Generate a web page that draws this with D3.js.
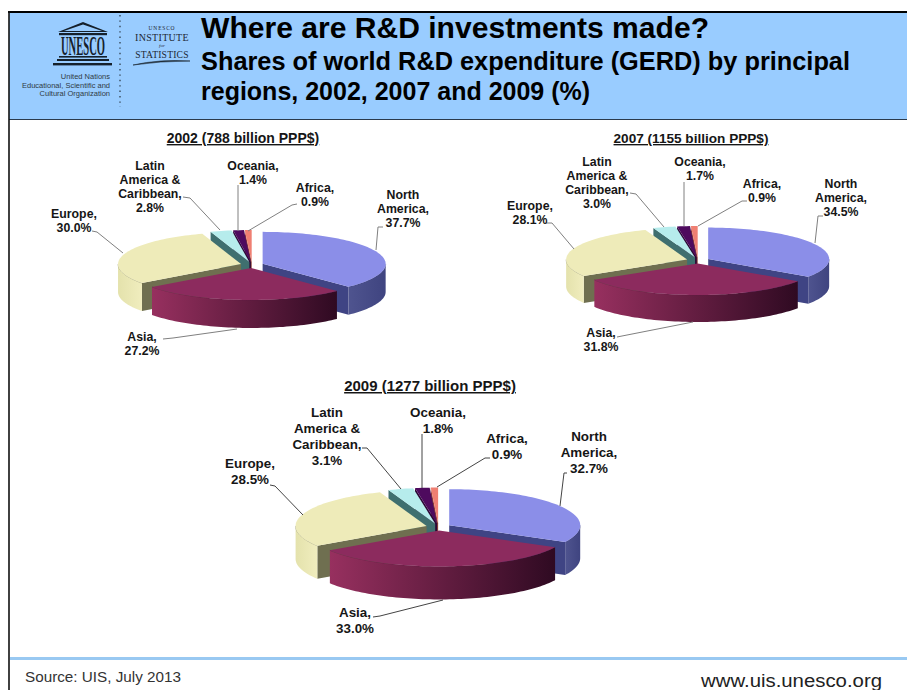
<!DOCTYPE html>
<html>
<head>
<meta charset="utf-8">
<script src="https://cdn.jsdelivr.net/npm/d3@7/dist/d3.min.js"></script>
<style>
  html, body { margin: 0; padding: 0; background: #fff; }
  svg { display: block; font-family: "Liberation Sans", Arial, sans-serif; }
</style>
</head>
<body>
<svg id="chart" width="907" height="690"></svg>
<script>
// Region names, clockwise from twelve o'clock, split into label lines
const regionLines = [
  ["North", "America,"],
  ["Asia,"],
  ["Europe,"],
  ["Latin", "America &", "Caribbean,"],
  ["Oceania,"],
  ["Africa,"]
];

// Share of world GERD by region (%)
const shares2002 = [37.7, 27.2, 30.0, 2.8, 1.4, 0.9];
const shares2007 = [34.5, 31.8, 28.1, 3.0, 1.7, 0.9];
const shares2009 = [32.7, 33.0, 28.5, 3.1, 1.8, 0.9];

const titles = ["2002 (788 billion PPP$)", "2007 (1155 billion PPP$)", "2009 (1277 billion PPP$)"];

// Slice paint
const topColors  = ["#8b8ee8", "#8c2b5e", "#eeebb9", "#b6ecec", "#4e0a5e", "#ef7f72"];
const wallColors = ["#3f4484", "#5a1a40", "#6f6f50", "#3f6f6f", "#2c0636", "#8a4038"];
const rimStops   = [["#4f548f", "#3f4480"], ["#97305f", "#2f0a22"], ["#e4e2ac", "#f0edbe"], ["#8cc", "#8cc"], ["#404", "#404"], ["#c66", "#c66"]];

// Panel geometry
const panels = [
  { values: shares2002, title: titles[0], cx: 252, cy: 265, rx: 123, ry: 32, depth: 28, burst: 11.5,
    titleX: 243, titleY: 143, titleSize: 14, fontSize: 12.3, lineH: 14,
    labels: [[403, 199], [142, 341], [74, 218], [150, 170], [253, 170], [315, 192]],
    leaders: [
      [[383, 227], [378, 227], [376, 250]],
      [[163, 339], [173, 338], [237, 329]],
      [[92, 231], [97, 232], [123, 253]],
      [[183, 197], [190, 198], [220, 230]],
      [[238, 185], [238, 231]],
      [[297, 204], [292, 205], [248, 231]]
    ] },
  { values: shares2007, title: titles[1], cx: 698, cy: 260.5, rx: 121, ry: 31.5, depth: 27, burst: 11.5,
    titleX: 691, titleY: 143, titleSize: 13.6, fontSize: 12.3, lineH: 14,
    labels: [[841, 188], [601, 337], [530, 210], [597, 166], [700, 166], [762, 188]],
    leaders: [
      [[823, 216], [818, 216], [815, 243]],
      [[617, 337], [622, 336], [693, 322]],
      [[546, 223], [552, 223], [574, 249]],
      [[630, 193], [636, 194], [664, 227]],
      [[684, 182], [684, 226]],
      [[747, 201], [742, 201], [698, 226]]
    ] },
  { values: shares2009, title: titles[2], cx: 438.5, cy: 527, rx: 131, ry: 36, depth: 33, burst: 12.5,
    titleX: 430, titleY: 391, titleSize: 15, fontSize: 13.4, lineH: 16,
    labels: [[589, 441], [355, 617], [250, 468], [327, 417], [438, 417], [507, 443]],
    leaders: [
      [[567, 473], [564, 473], [560, 506]],
      [[373, 617], [380, 616], [443, 600]],
      [[270, 485], [275, 486], [303, 515]],
      [[362, 448], [367, 448], [401, 489]],
      [[422, 434], [422, 488]],
      [[490, 458], [485, 458], [437, 487]]
    ] }
];

const svg = d3.select("#chart");
const defs = svg.append("defs");
const ink = "#161616";

// Header band and frame
svg.append("rect").attr("x", 9).attr("y", 12).attr("width", 898).attr("height", 107).attr("fill", "#99ccff");
svg.append("line").attr("x1", 8).attr("x2", 907).attr("y1", 12).attr("y2", 12).attr("stroke", "#000").attr("stroke-width", 2);
svg.append("line").attr("x1", 9).attr("x2", 907).attr("y1", 119.5).attr("y2", 119.5).attr("stroke", "#2b3a4c").attr("stroke-width", 1.2);
svg.append("line").attr("x1", 9).attr("x2", 9).attr("y1", 11).attr("y2", 690).attr("stroke", "#111").attr("stroke-width", 1.6);

// Header headings
svg.append("text").attr("x", 201).attr("y", 38).attr("font-size", 30).attr("font-weight", 700).attr("fill", "#000")
  .attr("textLength", 508).attr("lengthAdjust", "spacingAndGlyphs").text("Where are R&D investments made?");
svg.append("text").attr("x", 201).attr("y", 70).attr("font-size", 25).attr("font-weight", 700).attr("fill", "#000")
  .attr("textLength", 649).attr("lengthAdjust", "spacingAndGlyphs").text("Shares of world R&D expenditure (GERD) by principal");
svg.append("text").attr("x", 201).attr("y", 100).attr("font-size", 25).attr("font-weight", 700).attr("fill", "#000")
  .text("regions, 2002, 2007 and 2009 (%)");

// UNESCO temple emblem
const emblem = svg.append("g").attr("fill", "#15202b");
emblem.append("path").attr("d", "M58 32 L83 22 L108 32 Z M64 31 L83 24.5 L102 31 Z").attr("fill-rule", "evenodd");
emblem.append("rect").attr("x", 59).attr("y", 33).attr("width", 48).attr("height", 2.2);
emblem.append("text").attr("x", 83).attr("y", 55).attr("text-anchor", "middle")
  .attr("font-family", "'Liberation Serif', serif").attr("font-weight", 700).attr("font-size", 27)
  .attr("textLength", 44).attr("lengthAdjust", "spacingAndGlyphs").text("UNESCO");
emblem.append("rect").attr("x", 59).attr("y", 56).attr("width", 48).attr("height", 1.6);
emblem.append("rect").attr("x", 57).attr("y", 59).attr("width", 52).attr("height", 2);
emblem.append("rect").attr("x", 53).attr("y", 63).attr("width", 59).attr("height", 2.4);

["United Nations", "Educational, Scientific and", "Cultural Organization"].forEach((t, i) => {
  svg.append("text").attr("x", 110).attr("y", 79 + i * 8.7).attr("text-anchor", "end")
    .attr("font-size", 7.5).attr("fill", "#2f3a44").text(t);
});

// Dotted divider between the two logos
svg.append("line").attr("x1", 120).attr("x2", 120).attr("y1", 15).attr("y2", 107)
  .attr("stroke", "#26323c").attr("stroke-width", 1.2).attr("stroke-dasharray", "1.4 4");

// Institute wordmark
const serif = "'Liberation Serif', serif";
[["UNESCO", 30, 5.5, "normal", .8], ["INSTITUTE", 41, 10, "normal", .3], ["for", 46.5, 5, "italic", 0], ["STATISTICS", 58, 9.6, "normal", .2]]
  .forEach(([t, y, s, st, sp]) => {
    svg.append("text").attr("x", 162).attr("y", y).attr("text-anchor", "middle")
      .attr("font-family", serif).attr("font-size", s).attr("font-style", st).attr("letter-spacing", sp)
      .attr("fill", "#1d2833").text(t);
  });
svg.append("path").attr("d", "M133 65 Q160 59 190 61 Q160 61 133 65 Z").attr("fill", "#1d2833").attr("stroke", "#1d2833").attr("stroke-width", .6);

// Footer
svg.append("line").attr("x1", 10).attr("x2", 907).attr("y1", 658.5).attr("y2", 658.5).attr("stroke", "#99c9f2").attr("stroke-width", 3);
svg.append("text").attr("x", 25).attr("y", 682).attr("font-size", 14).attr("fill", "#333")
  .attr("textLength", 156).attr("lengthAdjust", "spacingAndGlyphs").text("Source: UIS, July 2013");
svg.append("text").attr("x", 701).attr("y", 687).attr("font-size", 18).attr("fill", "#222")
  .attr("textLength", 181).attr("lengthAdjust", "spacingAndGlyphs").text("www.uis.unesco.org");

const pie = d3.pie().sort(null).startAngle(0).endAngle(2 * Math.PI);
const outline = d3.line();

// Slices are painted back to front so nearer ones hide the walls behind them
const paintOrder = [5, 4, 3, 2, 0, 1];

panels.forEach((p, pi) => {
  const g = svg.append("g");
  const sx = d3.scaleLinear().domain([-1, 1]).range([-p.rx, p.rx]);
  const sy = d3.scaleLinear().domain([-1, 1]).range([-p.ry, p.ry]);
  const arcs = pie(p.values);

  const rimPoint = (o, a, dy = 0) => [o[0] + sx(Math.sin(a)), o[1] - sy(Math.cos(a)) + dy];
  const sweep = (a0, a1) => {
    const n = Math.max(2, Math.ceil((a1 - a0) / 0.03));
    return d3.range(n + 1).map(i => a0 + (a1 - a0) * i / n);
  };

  paintOrder.forEach(i => {
    const { startAngle: a0, endAngle: a1 } = arcs[i];
    const mid = (a0 + a1) / 2;
    const o = [p.cx + p.burst * Math.sin(mid), p.cy - p.burst * (p.ry / p.rx) * Math.cos(mid)];
    const slice = g.append("g");

    // Cut faces exposed by the exploded slice
    if (Math.sin(a0) < -1e-6) {
      const r = rimPoint(o, a0);
      slice.append("path").attr("fill", wallColors[i])
        .attr("d", outline([o, r, [r[0], r[1] + p.depth], [o[0], o[1] + p.depth]]) + "Z");
    }
    if (Math.sin(a1) > 1e-6) {
      const r = rimPoint(o, a1);
      slice.append("path").attr("fill", wallColors[i])
        .attr("d", outline([o, r, [r[0], r[1] + p.depth], [o[0], o[1] + p.depth]]) + "Z");
    }

    // Curved outer wall, only where it faces the viewer
    const from = Math.max(a0, Math.PI / 2), to = Math.min(a1, 3 * Math.PI / 2);
    if (to > from) {
      const front = sweep(from, to);
      const upper = front.map(a => rimPoint(o, a));
      const lower = front.map(a => rimPoint(o, a, p.depth)).reverse();
      const xs = d3.extent(upper, d => d[0]);
      const id = `rim-${pi}-${i}`;
      const grad = defs.append("linearGradient").attr("id", id).attr("gradientUnits", "userSpaceOnUse")
        .attr("x1", xs[1]).attr("x2", xs[0]).attr("y1", 0).attr("y2", 0);
      grad.append("stop").attr("offset", 0).attr("stop-color", rimStops[i][1]);
      grad.append("stop").attr("offset", 1).attr("stop-color", rimStops[i][0]);
      slice.append("path").attr("fill", `url(#${id})`)
        .attr("d", outline(upper.concat(lower)) + "Z");
      slice.append("path").attr("fill", "none").attr("stroke", wallColors[i]).attr("stroke-width", .7)
        .attr("stroke-opacity", .6).attr("d", outline(upper));
    }

    // Top face
    const rim = sweep(a0, a1).map(a => rimPoint(o, a));
    slice.append("path").attr("fill", topColors[i]).attr("d", outline([o].concat(rim)) + "Z");
  });

  // Leader lines
  g.selectAll("path.leader").data(p.leaders).join("path").attr("class", "leader")
    .attr("fill", "none").attr("stroke", pi === 2 ? "#444" : "#808080").attr("stroke-width", 1)
    .attr("d", d => outline(d));

  // Region labels: name lines followed by the share
  p.values.forEach((v, i) => {
    const lines = regionLines[i].concat(v.toFixed(1) + "%");
    const t = g.append("text").attr("text-anchor", "middle").attr("font-size", p.fontSize)
      .attr("font-weight", 700).attr("fill", ink);
    lines.forEach((line, k) => {
      t.append("tspan").attr("x", p.labels[i][0]).attr("y", p.labels[i][1] + k * p.lineH).text(line);
    });
  });

  // Panel heading
  g.append("text").attr("x", p.titleX).attr("y", p.titleY).attr("text-anchor", "middle")
    .attr("font-size", p.titleSize).attr("font-weight", 700).attr("fill", ink)
    .attr("text-decoration", "underline").text(p.title);
});
</script>
</body>
</html>
